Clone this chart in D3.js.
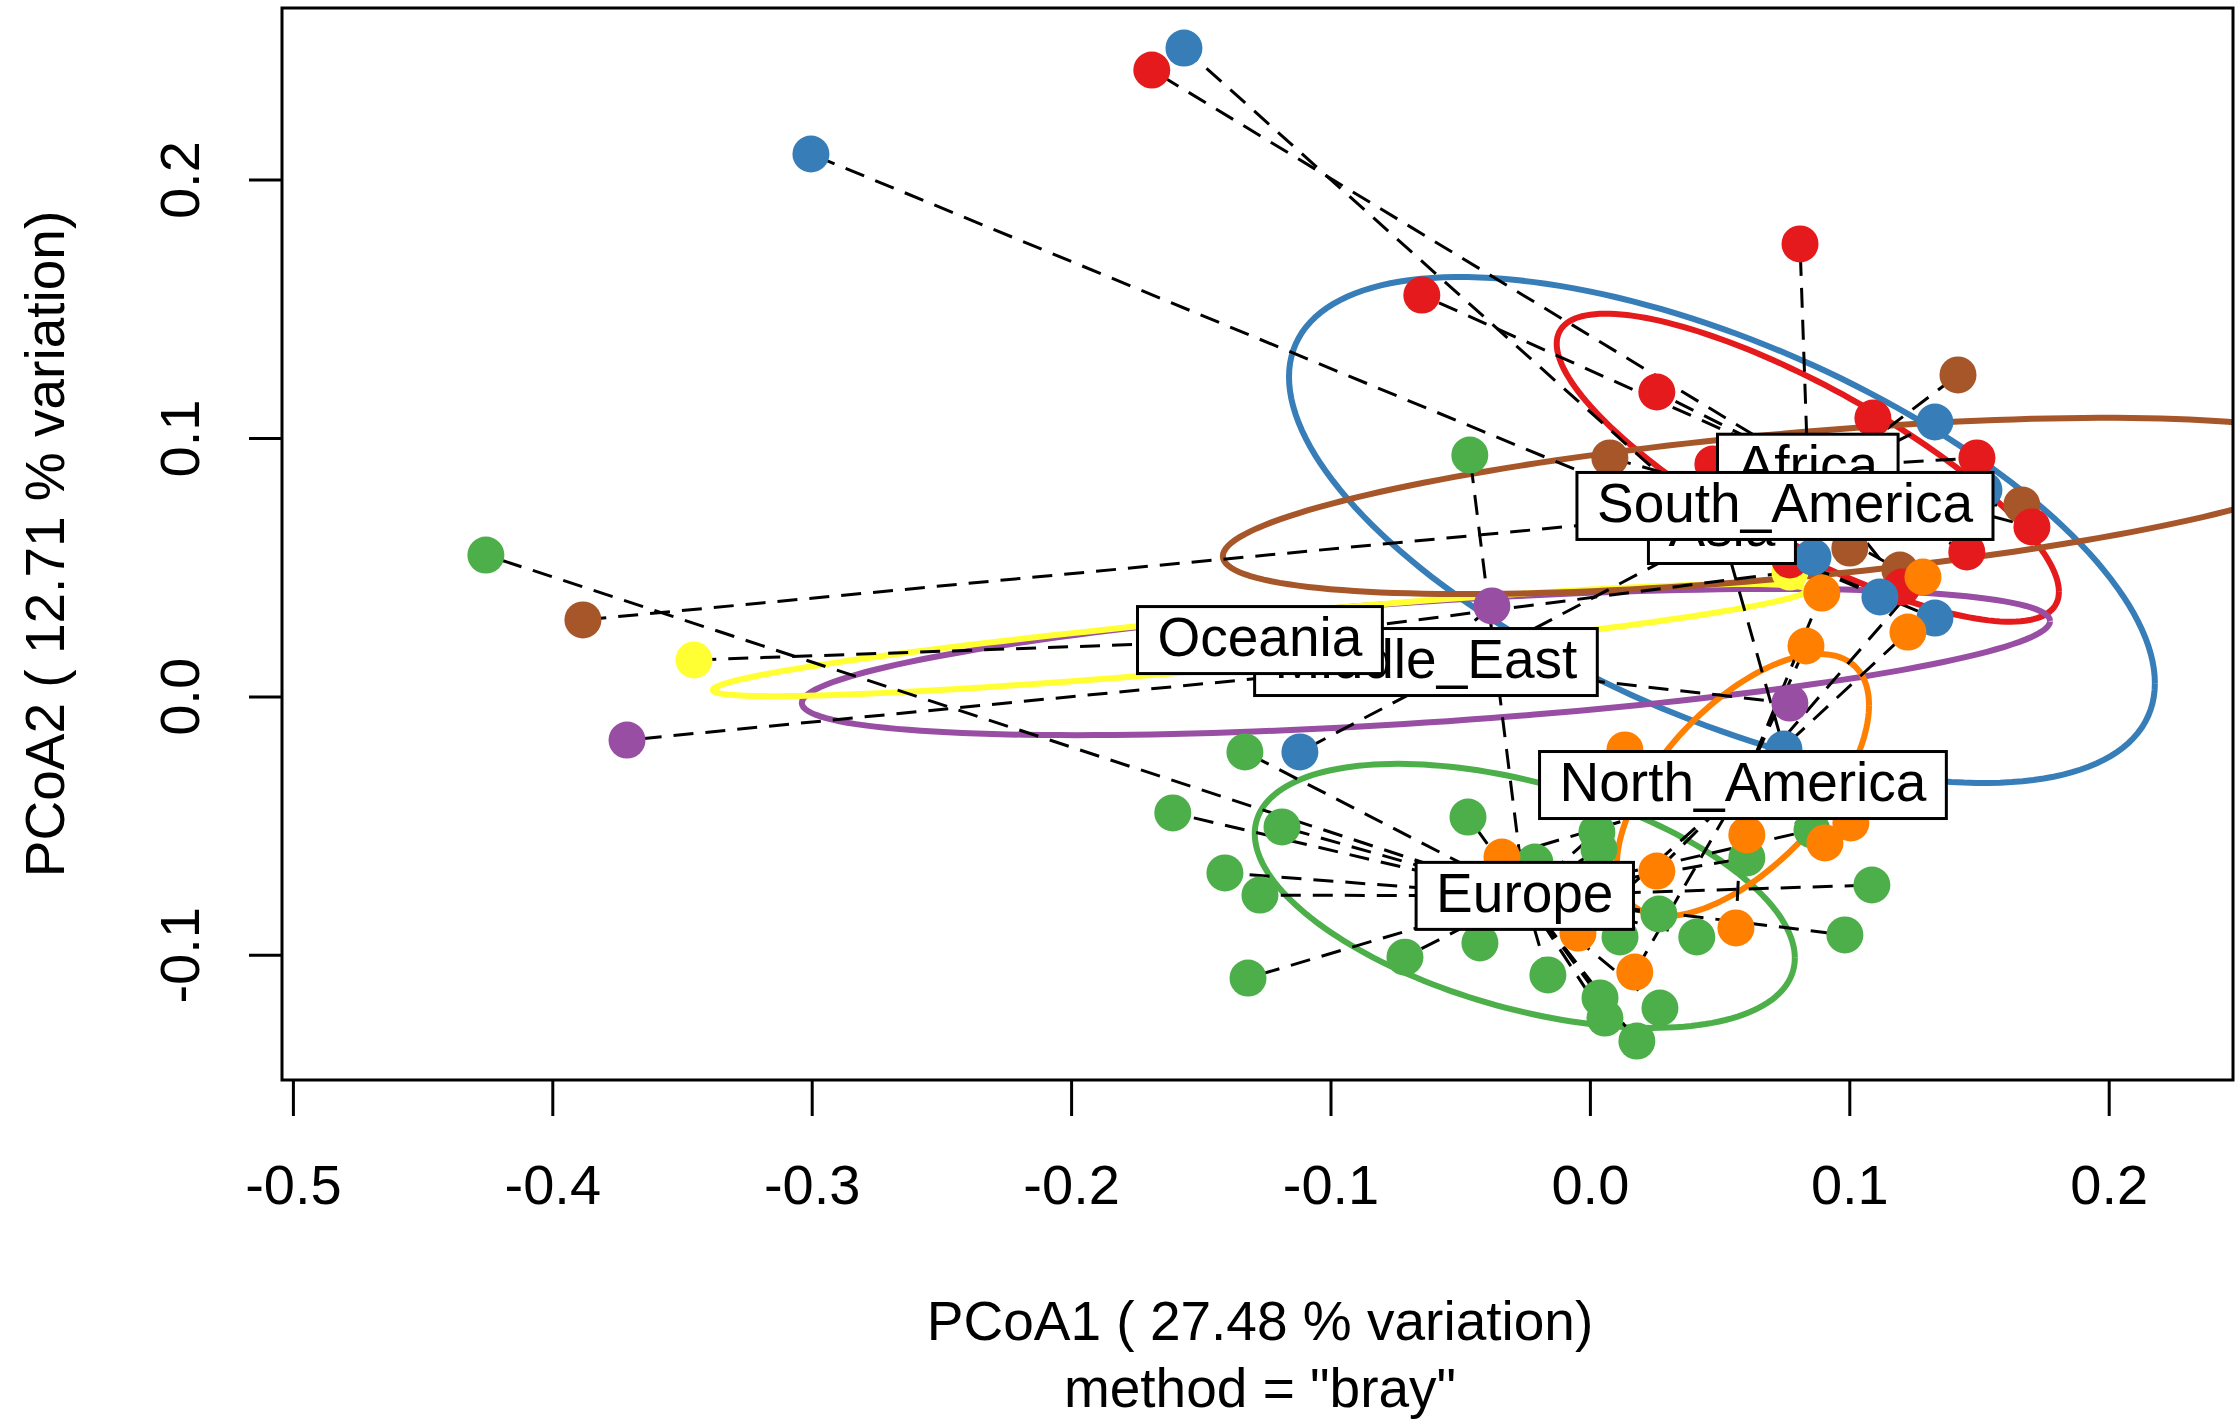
<!DOCTYPE html>
<html>
<head>
<meta charset="utf-8">
<script src="https://cdn.jsdelivr.net/npm/d3@7"></script>
<style>
  body { margin: 0; background: #fff; }
  svg text { font-family: "Liberation Sans", Arial, Helvetica, sans-serif; fill: #000; }
</style>
</head>
<body>
<div id="canvas"></div>
<script>
// PCoA ordination: ordiellipse + ordispider + ordilabel by region

const width = 2236, height = 1423;

const groups = ["Africa", "Asia", "Europe", "Middle_East", "North_America", "Oceania", "South_America"];
const groupColors = ["#E41A1C", "#377EB8", "#4DAF4A", "#984EA3", "#FF7F00", "#FFFF33", "#A65628"];

// sample scores (PCoA1, PCoA2) per group
const africaX = [-0.1689, -0.0648, 0.0810, 0.0258, 0.1091, 0.1492, 0.0474, 0.1704, 0.1453, 0.1203, 0.0771];
const africaY = [0.2424, 0.1553, 0.1751, 0.1178, 0.1077, 0.0923, 0.0899, 0.0656, 0.0559, 0.0423, 0.0528];

const asiaX = [-0.1565, -0.3003, 0.1330, 0.1519, 0.0860, 0.1118, 0.1330, -0.1118, 0.0748];
const asiaY = [0.2509, 0.2099, 0.1062, 0.0799, 0.0539, 0.0385, 0.0303, -0.0215, -0.0204];

const europeX = [-0.4256, -0.0463, -0.1330, -0.1608, -0.1187, -0.0470, -0.1407, -0.1272, -0.1318,
  -0.0713, -0.0424, -0.0162, 0.0039, 0.0058, 0.0181, 0.0270, 0.0116, 0.0266, 0.0412,
  0.0983, 0.1087, 0.0027, 0.0035, -0.0212, 0.0605, 0.0856];
const europeY = [0.0547, 0.0934, -0.0215, -0.0451, -0.0505, -0.0467, -0.0683, -0.0769, -0.1090,
  -0.1009, -0.0954, -0.1078, -0.1167, -0.1245, -0.1334, -0.1206, -0.0931, -0.0842, -0.0931,
  -0.0923, -0.0730, -0.0525, -0.0591, -0.0641, -0.0625, -0.0517];

const middleEastX = [-0.3712, -0.0378, 0.0771];
const middleEastY = [-0.0169, 0.0350, -0.0026];

const northAmericaX = [0.0135, 0.0833, 0.0894, 0.1284, 0.1226, -0.0339, 0.0258, 0.0605, 0.0906,
  0.1006, 0.0563, -0.0046, 0.0173];
const northAmericaY = [-0.0207, 0.0195, 0.0400, 0.0462, 0.0249, -0.0622, -0.0676, -0.0536, -0.0567,
  -0.0490, -0.0896, -0.0916, -0.1067];

const oceaniaX = [-0.3454, 0.0771];
const oceaniaY = [0.0141, 0.0481];

const southAmericaX = [-0.3882, 0.0077, 0.1419, 0.1665, 0.1002, 0.1195];
const southAmericaY = [0.0296, 0.0923, 0.1244, 0.0741, 0.0574, 0.0489];

// group centroids (spider hubs / label positions), same order as groups
const centroidX = [0.0840, 0.0509, -0.0251, -0.0632, 0.0590, -0.1272, 0.0752];
const centroidY = [0.0885, 0.0644, -0.0772, 0.0133, -0.0343, 0.0218, 0.0737];

// ellipse half-extents along each axis and correlation
const ellipseSx = [0.0968, 0.1669, 0.1041, 0.2406, 0.0486, 0.2109, 0.2167];
const ellipseSy = [0.0596, 0.0979, 0.0511, 0.0283, 0.0507, 0.0217, 0.0341];
const ellipseR = [-0.805, -0.605, -0.47, 0.56, 0.61, 0.89, 0.57];

const xTicks = [-0.5, -0.4, -0.3, -0.2, -0.1, 0.0, 0.1, 0.2];
const yTicks = [-0.1, 0.0, 0.1, 0.2];

const xTitle = "PCoA1 ( 27.48 % variation)";
const subTitle = 'method = "bray"';
const yTitle = "PCoA2 ( 12.71 % variation)";

const groupX = [africaX, asiaX, europeX, middleEastX, northAmericaX, oceaniaX, southAmericaX];
const groupY = [africaY, asiaY, europeY, middleEastY, northAmericaY, oceaniaY, southAmericaY];

// plot box
const boxL = 282, boxR = 2233, boxT = 8, boxB = 1080;

const x = d3.scaleLinear().domain([-0.5, 0.2]).range([292.9, 2108.7]);
const y = d3.scaleLinear().domain([0, 0.2]).range([696.4, 179.6]);

const fmt = d => d.toFixed(1); // plain hyphen minus, like R

const svg = d3.select("#canvas").append("svg")
  .attr("width", width).attr("height", height)
  .style("background", "#fff");

svg.append("defs").append("clipPath").attr("id", "plotClip")
  .append("rect").attr("x", boxL).attr("y", boxT)
  .attr("width", boxR - boxL).attr("height", boxB - boxT);

const plot = svg.append("g").attr("clip-path", "url(#plotClip)");

// ELLIPSES
const ellipseLine = d3.line().x(d => x(d[0])).y(d => y(d[1]));
groups.forEach((g, i) => {
  const cx = centroidX[i], cy = centroidY[i];
  const sx = ellipseSx[i], sy = ellipseSy[i], r = ellipseR[i];
  const pts = d3.range(0, 361, 2).map(a => {
    const t = a * Math.PI / 180;
    return [cx + sx * Math.cos(t), cy + sy * (r * Math.cos(t) + Math.sqrt(1 - r * r) * Math.sin(t))];
  });
  plot.append("path")
    .attr("d", ellipseLine(pts))
    .attr("fill", "none")
    .attr("stroke", groupColors[i])
    .attr("stroke-width", 6);
});

// SPIDERS
groups.forEach((g, i) => {
  groupX[i].forEach((vx, j) => {
    plot.append("line")
      .attr("x1", x(centroidX[i])).attr("y1", y(centroidY[i]))
      .attr("x2", x(vx)).attr("y2", y(groupY[i][j]))
      .attr("stroke", "#000")
      .attr("stroke-width", 3)
      .attr("stroke-dasharray", "20,12");
  });
});

// POINTS
const drawOrder = [6, 5, 3, 0, 1, 2, 4];
drawOrder.forEach(i => {
  groupX[i].forEach((vx, j) => {
    plot.append("circle")
      .attr("cx", x(vx)).attr("cy", y(groupY[i][j]))
      .attr("r", 18.5)
      .attr("fill", groupColors[i]);
  });
});

// LABELS
groups.forEach((g, i) => {
  const lx = x(centroidX[i]), ly = y(centroidY[i]);
  const lab = plot.append("g");
  const box = lab.append("rect");
  const txt = lab.append("text")
    .attr("x", lx).attr("y", ly + 16)
    .attr("text-anchor", "middle")
    .style("font-size", "55px")
    .text(g);
  const w = txt.node().getComputedTextLength() + 40;
  box.attr("x", lx - w / 2).attr("y", ly - 33.5)
    .attr("width", w).attr("height", 67)
    .attr("fill", "#fff").attr("stroke", "#000").attr("stroke-width", 3);
});

// BOX
svg.append("rect")
  .attr("x", boxL).attr("y", boxT)
  .attr("width", boxR - boxL).attr("height", boxB - boxT)
  .attr("fill", "none").attr("stroke", "#000").attr("stroke-width", 3);

// AXES
const xAxis = svg.append("g")
  .attr("transform", `translate(0,${boxB})`)
  .call(d3.axisBottom(x).tickValues(xTicks).tickSize(36).tickPadding(48).tickFormat(fmt));
xAxis.select(".domain").remove();
xAxis.selectAll("line").attr("stroke-width", 3);
xAxis.selectAll("text").style("font-size", "56px").attr("font-family", null);

const yAxis = svg.append("g")
  .attr("transform", `translate(${boxL},0)`)
  .call(d3.axisLeft(y).tickValues(yTicks).tickSize(33).tickFormat(fmt));
yAxis.select(".domain").remove();
yAxis.selectAll("line").attr("stroke-width", 3);
yAxis.selectAll("text")
  .attr("transform", "rotate(-90)")
  .attr("x", 0).attr("y", -83).attr("dy", 0)
  .style("text-anchor", "middle")
  .style("font-size", "56px")
  .attr("font-family", null);

// TITLES
svg.append("text")
  .attr("x", 1260).attr("y", 1340)
  .attr("text-anchor", "middle")
  .style("font-size", "55px")
  .text(xTitle);
svg.append("text")
  .attr("x", 1260).attr("y", 1407)
  .attr("text-anchor", "middle")
  .style("font-size", "55px")
  .text(subTitle);
svg.append("text")
  .attr("transform", "translate(64,544) rotate(-90)")
  .attr("text-anchor", "middle")
  .style("font-size", "55px")
  .text(yTitle);
</script>
</body>
</html>
